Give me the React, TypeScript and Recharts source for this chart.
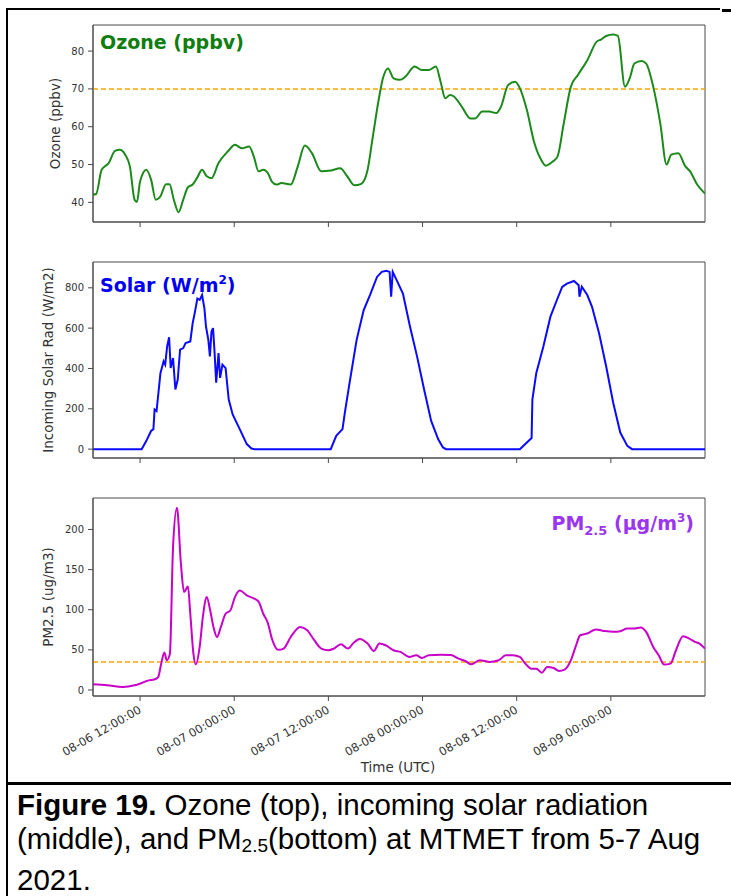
import React from "react";
import { LineChart, Line, XAxis, YAxis, ReferenceLine, ReferenceArea, Label } from "recharts";

// hours since 08-06 06:00 UTC
const tickHours = [6, 18, 30, 42, 54, 66];
const tickLabels = [
  "08-06 12:00:00",
  "08-07 00:00:00",
  "08-07 12:00:00",
  "08-08 00:00:00",
  "08-08 12:00:00",
  "08-09 00:00:00",
];

const ozoneHours = [
  0, 0.4, 1.1, 2, 2.8, 3.4, 4.1, 4.7, 5.3, 5.6, 6, 6.8, 7.4, 8, 8.6, 9.3, 9.75, 10.3, 10.9, 11.5,
  12.1, 12.7, 13.3, 13.9, 14.5, 15.1, 16, 17.2, 18.1, 19, 19.9, 20.5, 21.1, 21.7, 22.3, 22.8, 23.4,
  24, 25.2, 26.1, 27, 27.9, 29.1, 30.3, 31.5, 32.4, 33.3, 34.2, 35, 35.6, 36.4, 36.95, 37.6, 38.3,
  39.1, 39.8, 41, 41.9, 42.8, 43.7, 44.3, 44.9, 45.5, 46, 47, 48.1, 48.7, 49.6, 50.5, 51.4, 52,
  52.9, 53.8, 54.4, 55.3, 56.2, 57.1, 57.7, 58.6, 59.2, 60, 60.9, 61.8, 63, 64.2, 64.8, 65.4, 66.3,
  66.9, 67.8, 68.4, 69, 69.9, 70.5, 71.4, 72.3, 73.1, 73.7, 74.6, 75.5, 76.1, 77, 78,
];
const ozonePpbv = [
  42, 42.2, 48.6, 50.4, 53.6, 53.9, 52.6, 49.5, 40.7, 40.1, 45.5, 48.6, 46, 40.7, 41.6, 44.8, 44.8,
  40.7, 37.4, 40.7, 44, 44.7, 46.6, 48.6, 46.9, 46.4, 50.4, 53.5, 55.2, 54.3, 54.8, 52.1, 48.2,
  48.6, 47.7, 45.5, 44.7, 45.1, 44.7, 49.5, 55, 53, 48.2, 48.4, 49, 46.9, 44.5, 44.9, 48.6, 56.5,
  67, 72.8, 75.4, 72.8, 72.4, 73.2, 75.9, 75, 75, 75.9, 71.9, 67.5, 68.4, 68, 65.3, 62.2, 62.2, 64,
  64, 63.6, 65.3, 71, 71.9, 70.2, 64.4, 56.1, 51.3, 49.7, 50.8, 52.1, 60.9, 70.6, 73.7, 77.6, 82.5,
  83.1, 84, 84.4, 84, 70.6, 72.8, 76.7, 77.4, 76.7, 70.6, 60.9, 50, 52.6, 53, 49.5, 48.2, 44.7, 42.3,
];

const solarHours = [
  0, 6.2, 6.8, 7.4, 7.7, 7.85, 8.1, 8.6, 9, 9.2, 9.45, 9.7, 9.9, 10.2, 10.5, 10.8, 11.1, 11.5, 11.8,
  12.4, 12.7, 13, 13.3, 13.6, 13.9, 14.2, 14.4, 14.7, 14.9, 15.1, 15.3, 15.5, 15.7, 16, 16.2, 16.5,
  16.9, 17.3, 17.8, 18.7, 19.6, 20.2, 20.6, 30.3, 31, 31.8, 32.1, 32.7, 33.6, 34.5, 35.3, 36.2, 36.8,
  37.4, 37.8, 38, 38.2, 38.7, 39.5, 40.4, 41.3, 42.2, 43.1, 44, 44.6, 45, 54.4, 55.9, 56, 56.5, 57.4,
  58.3, 59.2, 59.8, 60.4, 61.3, 61.9, 62, 62.3, 63, 63.6, 64.5, 65.4, 66.3, 67.2, 68.1, 68.7, 78,
];
const solarWm2 = [
  0, 0, 41, 90, 99, 197, 189, 378, 435, 419, 509, 555, 402, 452, 296, 345, 493, 501, 526, 534, 624,
  682, 747, 740, 764, 698, 608, 542, 460, 583, 600, 476, 329, 476, 353, 419, 402, 246, 172, 99, 25,
  3, 0, 0, 66, 99, 181, 329, 542, 690, 764, 854, 879, 884, 879, 756, 879, 838, 772, 608, 460, 296,
  140, 49, 8, 0, 0, 55, 246, 378, 509, 657, 747, 805, 821, 834, 813, 756, 805, 764, 706, 575, 411,
  230, 82, 16, 0, 0,
];

const pmHours = [
  0, 1.8, 3.8, 5.3, 6.2, 7.1, 7.8, 8.3, 8.7, 9.1, 9.4, 9.8, 10.2, 10.7, 11.2, 11.6, 12.1, 12.4, 12.8,
  13.1, 13.6, 14, 14.5, 14.9, 15.4, 15.8, 16.3, 16.9, 17.5, 18.1, 18.7, 19.6, 20.5, 21.1, 21.7, 22.3,
  22.8, 23.6, 24.3, 25.2, 26.4, 27.3, 28.2, 29.1, 30, 30.7, 31.6, 32.5, 33.2, 34, 35, 35.8, 36.5,
  37.3, 38.3, 39.2, 40.3, 41.2, 41.9, 42.8, 44.3, 45.6, 46.6, 47.5, 48.2, 49.3, 50.5, 51.7, 52.6,
  53.5, 54.4, 55.1, 55.9, 56.5, 57.2, 57.9, 58.7, 59.4, 60.1, 60.9, 61.5, 62.1, 63, 64.1, 65.1, 66.3,
  67.2, 68.1, 69, 69.8, 70.5, 71.4, 72.1, 72.8, 73.6, 74.3, 75.2, 76, 76.7, 77.3, 78,
];
const pmUgm3 = [
  7, 5.8, 3.7, 5.8, 8.7, 12, 13, 16, 33, 46.6, 37, 45, 178, 227, 158, 122, 129, 95, 45, 32, 54, 91,
  116, 101, 76.5, 66, 78.6, 95, 99, 116, 124, 118, 114, 110, 95, 83, 64, 50, 51.6, 66, 78.6, 74.4,
  62, 51.6, 49.5, 51.6, 57, 51.6, 58.6, 63.6, 57.8, 48.6, 57.8, 55.7, 49.5, 47.4, 41.2, 43.2, 40,
  43.2, 44, 43.7, 39, 35.8, 32, 37, 35, 37, 43.2, 43.2, 41.2, 32.8, 26.6, 26.6, 21.6, 28.7, 27.4,
  23.7, 25.4, 37, 53.6, 68.2, 70.3, 75.3, 73.6, 72.4, 73.2, 76.5, 76.5, 77.8, 72.4, 53.6, 43.2, 31.6,
  32.8, 49.5, 67, 64, 60, 57.8, 51.6,
];

const ozoneRows = ozoneHours.map((h, i) => ({ h, v: ozonePpbv[i] }));
const solarRows = solarHours.map((h, i) => ({ h, v: solarWm2[i] }));
const pmRows = pmHours.map((h, i) => ({ h, v: pmUgm3[i] }));

const W = 731;
const axisColor = "#4a4a4a";
const textColor = "#333";
const font = "DejaVu Sans, sans-serif";
const tickStyle = { fontSize: 10, fill: textColor, fontFamily: font };

const DateTick = (props: any) => {
  const { x, y, payload } = props;
  const idx = tickHours.indexOf(payload.value);
  return (
    <g transform={`translate(${x + 2},${y + 9})`}>
      <text textAnchor="end" transform="rotate(-30)" fontSize={11.5} fill={textColor} fontFamily={font}>
        {tickLabels[idx]}
      </text>
    </g>
  );
};

function Panel(props: any) {
  const { rows, color, domain, yTicks, marginTop, plotHeight, xHeight, dates, yLabel, yLabelX, limit, curve } = props;
  const height = marginTop + plotHeight + xHeight;
  const cy = marginTop + plotHeight / 2;
  return (
    <LineChart width={W} height={height} data={rows} margin={{ top: marginTop, right: 26, bottom: 0, left: 0 }}>
      <XAxis
        dataKey="h"
        type="number"
        domain={[0, 78]}
        ticks={tickHours}
        allowDataOverflow
        height={xHeight}
        tickSize={5}
        tickMargin={2}
        stroke={axisColor}
        tick={dates ? <DateTick /> : tickStyle}
        tickFormatter={dates ? undefined : () => ""}
      >
        {dates && (
          <Label
            content={() => (
              <text x={398} y={plotHeight + marginTop + 76} textAnchor="middle" fontSize={13.5} fill={textColor} fontFamily={font}>
                Time (UTC)
              </text>
            )}
          />
        )}
      </XAxis>
      <YAxis
        type="number"
        domain={domain}
        ticks={yTicks}
        allowDataOverflow
        width={93}
        tickSize={5}
        tickMargin={4}
        stroke={axisColor}
        tick={tickStyle}
      >
        <Label
          content={() => (
            <text
              x={yLabelX}
              y={cy}
              transform={`rotate(-90 ${yLabelX} ${cy})`}
              textAnchor="middle"
              dominantBaseline="central"
              fontSize={13.5}
              fill={textColor}
              fontFamily={font}
            >
              {yLabel}
            </text>
          )}
        />
      </YAxis>
      {limit != null && <ReferenceLine y={limit} stroke="#ffa500" strokeDasharray="5 3" strokeWidth={1.5} />}
      <Line dataKey="v" type={curve} stroke={color} strokeWidth={2} dot={false} isAnimationActive={false} />
      <ReferenceArea x1={0} x2={78} y1={domain[0]} y2={domain[1]} fill="none" fillOpacity={0} stroke={axisColor} strokeWidth={1} />
    </LineChart>
  );
}

const titleBase: React.CSSProperties = {
  position: "absolute",
  fontFamily: font,
  fontWeight: "bold",
  fontSize: 19,
  lineHeight: "22px",
  whiteSpace: "nowrap",
};

export default function App() {
  return (
    <div style={{ position: "absolute", left: 0, top: 0, width: W, height: 896, background: "#fff", overflow: "hidden" }}>
      <div style={{ position: "absolute", left: 0, top: 0 }}>
        <Panel
          rows={ozoneRows}
          color="#1b8a1b"
          domain={[34.8, 86.9]}
          yTicks={[40, 50, 60, 70, 80]}
          marginTop={25}
          plotHeight={197}
          xHeight={6}
          yLabel="Ozone (ppbv)"
          yLabelX={55}
          limit={70}
          curve="monotone"
        />
      </div>
      <div style={{ position: "absolute", left: 0, top: 240 }}>
        <Panel
          rows={solarRows}
          color="#0a0aff"
          domain={[-44, 928]}
          yTicks={[0, 200, 400, 600, 800]}
          marginTop={22}
          plotHeight={196}
          xHeight={6}
          yLabel="Incoming Solar Rad (W/m2)"
          yLabelX={48}
          curve="linear"
        />
      </div>
      <div style={{ position: "absolute", left: 0, top: 480 }}>
        <Panel
          rows={pmRows}
          color="#c800c8"
          domain={[-7.5, 239.2]}
          yTicks={[0, 50, 100, 150, 200]}
          marginTop={18}
          plotHeight={198}
          xHeight={80}
          dates
          yLabel="PM2.5 (ug/m3)"
          yLabelX={48}
          limit={35}
          curve="monotone"
        />
      </div>

      <div style={{ ...titleBase, left: 100, top: 31, color: "#0f7d0f" }}>Ozone (ppbv)</div>
      <div style={{ ...titleBase, left: 100, top: 269, color: "#0000f0" }}>
        Solar (W/m<sup style={{ fontSize: 12, verticalAlign: 8 }}>2</sup>)
      </div>
      <div style={{ ...titleBase, right: W - 694, top: 507, color: "#9a35f0" }}>
        PM<sub style={{ fontSize: 13, verticalAlign: -5 }}>2.5</sub> (µg/m<sup style={{ fontSize: 12, verticalAlign: 8 }}>3</sup>)
      </div>

      <div style={{ position: "absolute", left: 6, top: 8, width: 2, height: 888, background: "#000" }} />
      <div style={{ position: "absolute", left: 6, top: 8, width: 714, height: 2, background: "#000" }} />
      <div style={{ position: "absolute", left: 722, top: 9, width: 9, height: 3, background: "#000" }} />
      <div style={{ position: "absolute", left: 6, top: 782, width: 725, height: 3, background: "#000" }} />

      <div
        style={{
          position: "absolute",
          left: 17,
          top: 788,
          fontFamily: "Liberation Sans, sans-serif",
          fontSize: 29.5,
          lineHeight: "34px",
          color: "#000",
          whiteSpace: "nowrap",
        }}
      >
        <b>Figure 19.</b> Ozone (top), incoming solar radiation
        <br />
        (middle), and PM<sub style={{ fontSize: 19, verticalAlign: -3 }}>2.5</sub>(bottom) at MTMET from 5-7 Aug
        <br />
        2021.
      </div>
    </div>
  );
}
